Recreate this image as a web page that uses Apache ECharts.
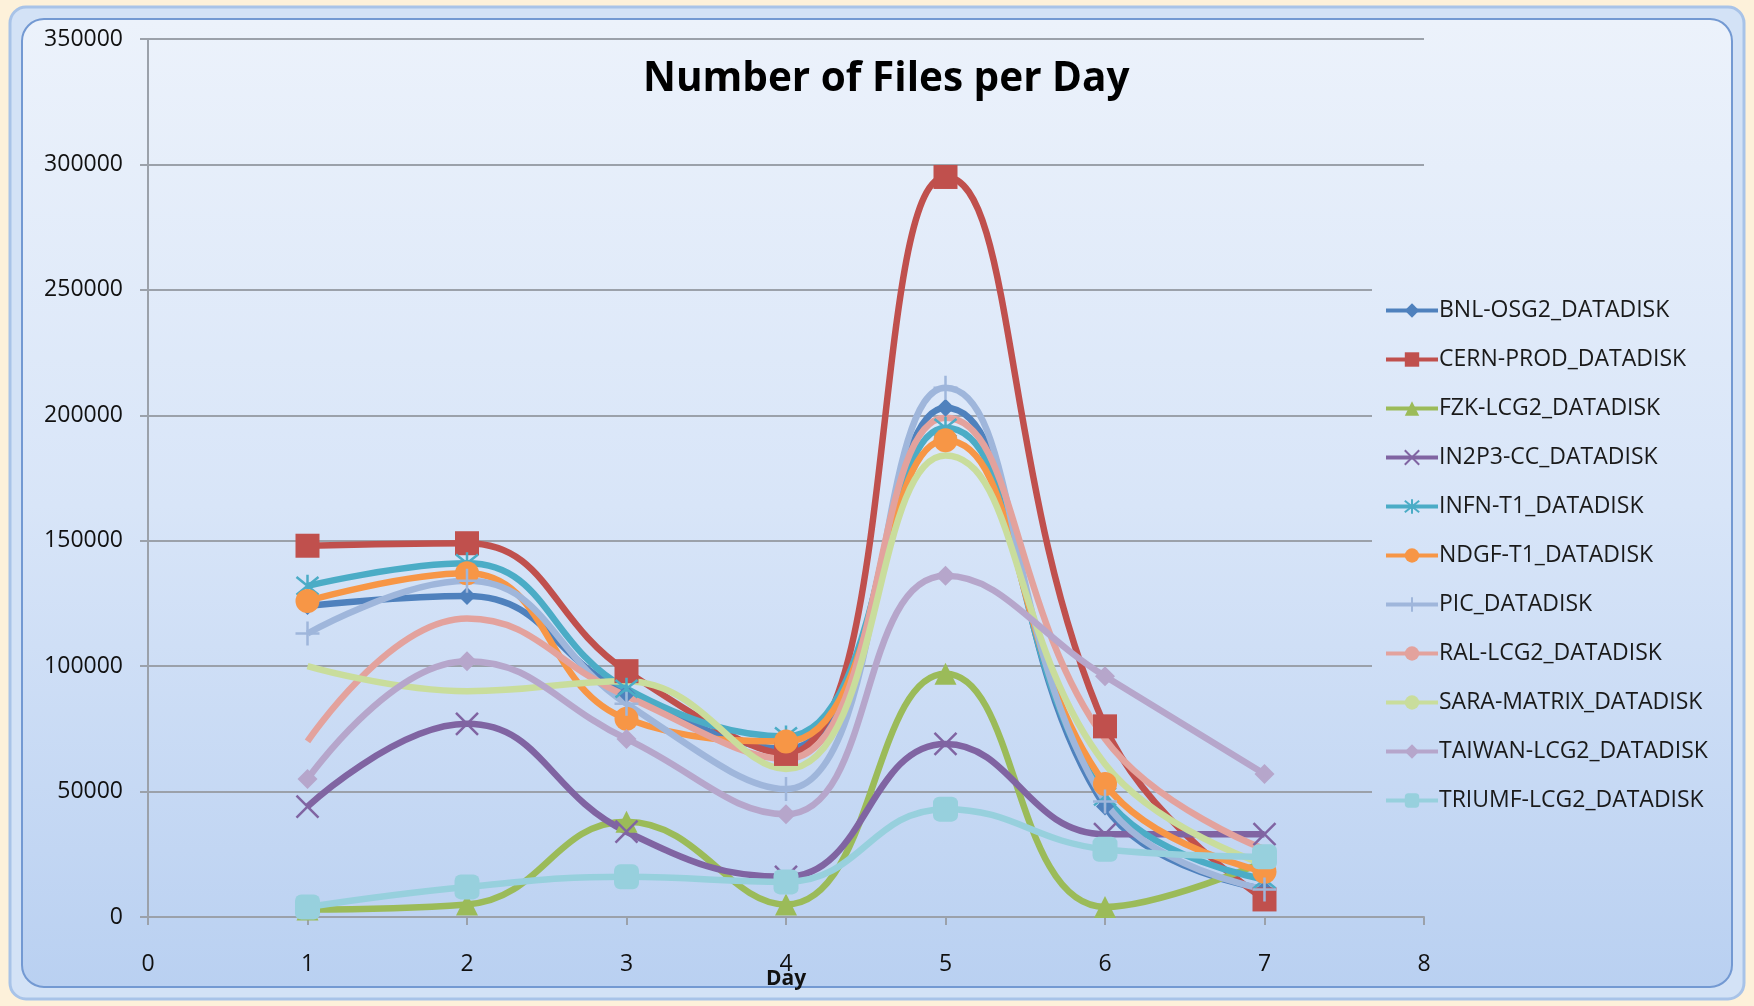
<!DOCTYPE html>
<html>
<head>
<meta charset="utf-8">
<title>Number of Files per Day</title>
<script src="https://cdn.jsdelivr.net/npm/echarts@6/dist/echarts.min.js"></script>
<style>
  html, body { margin: 0; padding: 0; background: #fdf1da; }
  #chart { width: 1754px; height: 1006px; }
</style>
</head>
<body>
<div id="chart"></div>
<script>
// Day numbers on the horizontal axis
const days = [1, 2, 3, 4, 5, 6, 7];

// Files transferred per day, one array per storage endpoint
const bnl    = [124000, 128000, 89000, 67000, 203000, 44000, 11000];
const cern   = [148000, 149000, 98000, 65000, 295000, 76000, 7000];
const fzk    = [3000, 5000, 38000, 5000, 97000, 4000, 22000];
const in2p3  = [44000, 77000, 34000, 16000, 69000, 33000, 33000];
const infn   = [132000, 141000, 91000, 72000, 195000, 48000, 15000];
const ndgf   = [126000, 137000, 79000, 70000, 190000, 53000, 18000];
const pic    = [113000, 134000, 85000, 51000, 211000, 46000, 11000];
const ral    = [70000, 119000, 88000, 63000, 199000, 71000, 27000];
const sara   = [100000, 90000, 94000, 59000, 184000, 61000, 21000];
const taiwan = [55000, 102000, 71000, 41000, 136000, 96000, 57000];
const triumf = [4000, 12000, 16000, 14000, 43000, 27000, 24000];

const seriesNames = [
  'BNL-OSG2_DATADISK', 'CERN-PROD_DATADISK', 'FZK-LCG2_DATADISK',
  'IN2P3-CC_DATADISK', 'INFN-T1_DATADISK', 'NDGF-T1_DATADISK',
  'PIC_DATADISK', 'RAL-LCG2_DATADISK', 'SARA-MATRIX_DATADISK',
  'TAIWAN-LCG2_DATADISK', 'TRIUMF-LCG2_DATADISK'
];
const seriesValues = [bnl, cern, fzk, in2p3, infn, ndgf, pic, ral, sara, taiwan, triumf];

// Axis ranges
const xMin = 0, xMax = 8, xStep = 1;
const yMin = 0, yMax = 350000, yStep = 50000;

const colors = ['#4f81bd', '#c0504d', '#9bbb59', '#8064a2', '#4bacc6', '#f79646',
                '#9fb6db', '#e3a29d', '#c9dd9c', '#b6a6cb', '#97d0dd'];

const SYM_X = 'path://M0,0L10,10M10,0L0,10';
const SYM_STAR = 'path://M5,0L5,10M0,1L10,9M0,9L10,1';
const SYM_PLUS = 'path://M5,0L5,10M0,5L10,5';
const markers = [
  { symbol: 'diamond', size: 18 },
  { symbol: 'rect', size: 24 },
  { symbol: 'triangle', size: 22 },
  { symbol: SYM_X, size: 22, stroke: true },
  { symbol: SYM_STAR, size: 22, stroke: true },
  { symbol: 'circle', size: 24 },
  { symbol: SYM_PLUS, size: 24, stroke: true },
  { symbol: 'none', size: 0 },
  { symbol: 'none', size: 0 },
  { symbol: 'diamond', size: 20 },
  { symbol: 'roundRect', size: 25 }
];

// Shared vertical fill, in page coordinates, for the frame and the legend box
const panelFill = {
  type: 'linear', x: 0, y: 20, x2: 0, y2: 990, global: true,
  colorStops: [
    { offset: 0, color: '#ecf2fb' },
    { offset: 0.5, color: '#d8e5f8' },
    { offset: 1, color: '#b9d0f1' }
  ]
};

const labelFont = '"Open Sans", "DejaVu Sans", sans-serif';

const series = seriesNames.map((name, i) => {
  const m = markers[i];
  return {
    name: name,
    type: 'line',
    smooth: 0.45,
    data: days.map((d, k) => [d, seriesValues[i][k]]),
    symbol: m.symbol,
    symbolSize: m.size,
    showSymbol: m.symbol !== 'none',
    lineStyle: { color: colors[i], width: 6.5 },
    itemStyle: m.stroke
      ? { color: colors[i], borderColor: colors[i], borderWidth: 2.5 }
      : { color: colors[i] },
    emphasis: { disabled: true }
  };
});

const chart = echarts.init(document.getElementById('chart'), null, { renderer: 'canvas' });

chart.setOption({
  animation: false,
  backgroundColor: '#fdf1da',
  graphic: [
    {
      type: 'rect', z: -20, silent: true,
      shape: { x: 10, y: 7, width: 1734, height: 992, r: 16 },
      style: { fill: '#d3e2f6', stroke: '#a8c3e8', lineWidth: 3 }
    },
    {
      type: 'rect', z: -19, silent: true,
      shape: { x: 22, y: 19, width: 1710, height: 968, r: 22 },
      style: { fill: panelFill, stroke: '#7399d2', lineWidth: 2 }
    },
    {
      // legend box: hides the grid lines that run behind the legend
      type: 'rect', z: 1, silent: true,
      shape: { x: 1372, y: 270, width: 60, height: 556 },
      style: { fill: panelFill }
    }
  ],
  title: {
    text: 'Number of Files per Day',
    left: 638,
    top: 54,
    padding: 5,
    textStyle: {
      fontFamily: labelFont,
      fontWeight: 'bold',
      fontSize: 40.5,
      color: '#000000'
    }
  },
  legend: {
    orient: 'vertical',
    left: 1372,
    top: 271,
    padding: [28, 20, 24, 12],
    itemWidth: 52,
    itemHeight: 18,
    itemGap: 26,
    lineStyle: { width: 4 },
    textStyle: {
      fontFamily: labelFont,
      fontSize: 23,
      lineHeight: 22,
      color: '#1a1a1a',
      padding: [0, 0, 0, -4]
    },
    data: seriesNames
  },
  grid: {
    left: 148,
    right: 330,
    top: 39,
    bottom: 89,
    containLabel: false
  },
  xAxis: {
    type: 'value',
    min: xMin,
    max: xMax,
    interval: xStep,
    name: 'Day',
    nameLocation: 'middle',
    nameGap: 52,
    nameMoveOverlap: false,
    nameTextStyle: {
      fontFamily: labelFont,
      fontWeight: 'bold',
      fontSize: 21,
      color: '#111111'
    },
    axisLine: { show: true, onZero: false, lineStyle: { color: '#9ba1aa', width: 2 } },
    axisTick: { show: true, length: 8, inside: false, lineStyle: { color: '#9ba1aa', width: 2 } },
    splitLine: { show: false },
    axisLabel: {
      margin: 36,
      fontFamily: labelFont,
      fontSize: 23,
      color: '#111111'
    }
  },
  yAxis: {
    type: 'value',
    min: yMin,
    max: yMax,
    interval: yStep,
    axisLine: { show: true, lineStyle: { color: '#9ba1aa', width: 2 } },
    axisTick: { show: true, length: 8, lineStyle: { color: '#9ba1aa', width: 2 } },
    splitLine: { show: true, lineStyle: { color: '#9ba1aa', width: 2 } },
    axisLabel: {
      margin: 25,
      fontFamily: labelFont,
      fontSize: 23,
      color: '#111111',
      formatter: (v) => String(v)
    }
  },
  series: series
});
</script>
</body>
</html>
